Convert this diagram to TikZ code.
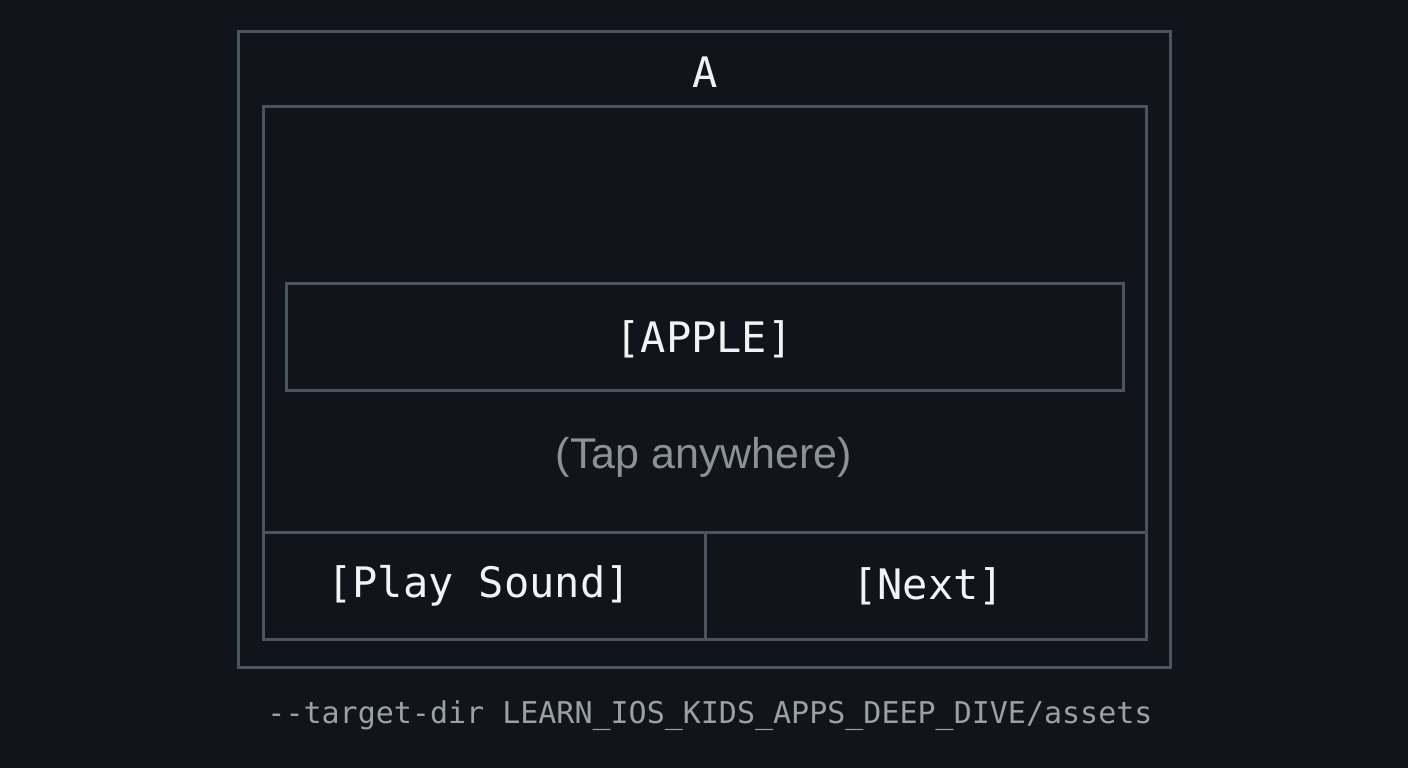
\documentclass[tikz,border=0pt]{standalone}
\usepackage{fontspec}
\setmainfont{Liberation Sans}
\setmonofont{DejaVu Sans Mono}
\definecolor{bg}{HTML}{11151B}
\definecolor{frame}{HTML}{4B535E}
\definecolor{txt}{HTML}{F2F3F5}
\definecolor{hint}{HTML}{8C9198}
\definecolor{cmd}{HTML}{9AA0A6}
\begin{document}
\begin{tikzpicture}[x=1pt,y=-1pt,
  boxline/.style={draw=frame,line width=3pt},
  monolabel/.style={text=txt,font=\ttfamily\fontsize{42}{42}\selectfont,inner sep=0pt}]
\fill[bg] (0,0) rectangle (1408,768);
\useasboundingbox (0,0) rectangle (1408,768);
\draw[boxline] (238,32) rectangle (1170,667);
\draw[boxline] (263,106) rectangle (1146,639);
\draw[boxline] (263,532) -- (1146,532);
\draw[boxline] (705,532) -- (705,639);
\node[boxline,minimum width=837pt,minimum height=107pt,inner sep=0pt] (apple) at (704.5,336.5) {};
\node[monolabel] (title) at (705,72) {A};
\node[monolabel,anchor=center] (applet) at (704,339) {[APPLE]};
\node[text=hint,font=\fontsize{43}{43}\selectfont,inner sep=0pt] (tap) at (704,457) {(Tap anywhere)};
\node[monolabel] (play) at (479,586) {[Play Sound]};
\node[monolabel] (next) at (928,586) {[Next]};
\node[text=cmd,font=\ttfamily\fontsize{30}{30}\selectfont,inner sep=0pt] (cmdline) at (710,716) {-{}-target-dir LEARN\_IOS\_KIDS\_APPS\_DEEP\_DIVE/assets};
\end{tikzpicture}
\end{document}
